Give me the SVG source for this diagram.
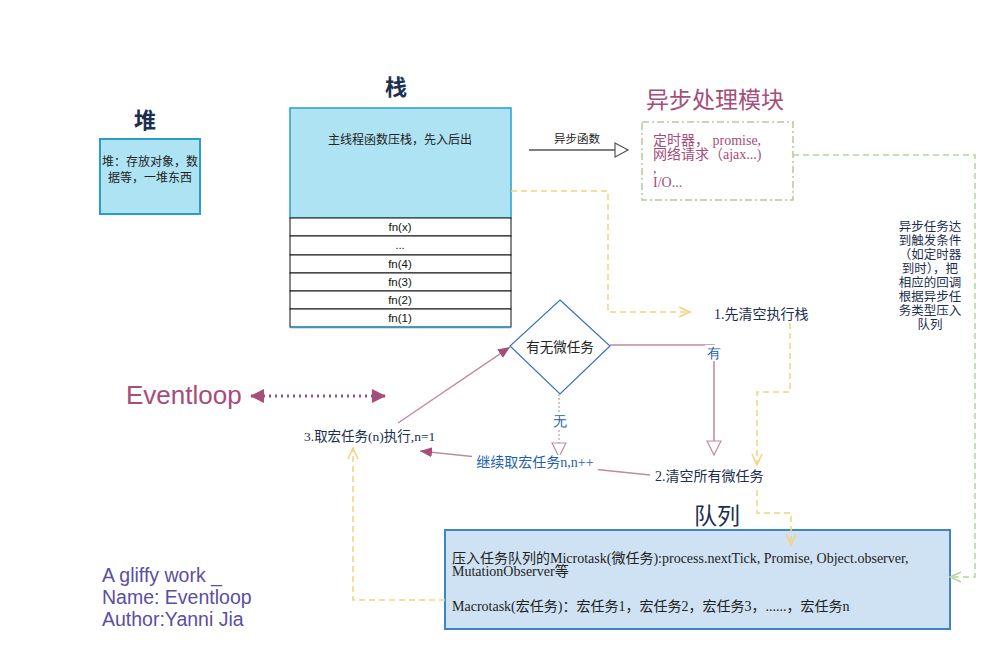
<svg xmlns="http://www.w3.org/2000/svg" width="1000" height="650" viewBox="0 0 1000 650">
<style>
.cjk{font-family:"Liberation Sans","Noto Sans CJK SC",sans-serif}
.ser{font-family:"Liberation Serif","Noto Sans CJK SC",serif}
.title{font-size:22px;font-weight:bold;fill:#1b2f4f}
.qtitle{font-size:23px;font-weight:normal;fill:#1b2f4f}
.ptitle{font-size:23px;fill:#a64d79}
.small{font-size:12px;fill:#222}
.row{fill:#fff;stroke:#111;stroke-width:1}
.ylw{fill:none;stroke:#f3d27a;stroke-width:1.5;stroke-dasharray:6 4}
.pink{fill:none;stroke:#c28a9f;stroke-width:1.5}
.blue{font-size:14px;fill:#1f5fb0}
</style>
<defs>
<marker id="openY" markerWidth="14" markerHeight="12" refX="12" refY="6" orient="auto" markerUnits="userSpaceOnUse"><path d="M1,1 L12,6 L1,11" fill="none" stroke="#f3d27a" stroke-width="1.5"/></marker>
<marker id="openG" markerWidth="14" markerHeight="12" refX="12" refY="6" orient="auto" markerUnits="userSpaceOnUse"><path d="M1,1 L12,6 L1,11" fill="none" stroke="#b7d49a" stroke-width="1.5"/></marker>
<marker id="triGray" markerWidth="16" markerHeight="16" refX="14" refY="8" orient="auto" markerUnits="userSpaceOnUse"><path d="M1,1 L14,8 L1,15 Z" fill="#fff" stroke="#555" stroke-width="1.2"/></marker>
<marker id="triPink" markerWidth="18" markerHeight="16" refX="15" refY="8" orient="auto" markerUnits="userSpaceOnUse"><path d="M1,1 L15,8 L1,15 Z" fill="#fff" stroke="#c28a9f" stroke-width="1.2"/></marker>
<marker id="fillPink" markerWidth="14" markerHeight="12" refX="12" refY="6" orient="auto" markerUnits="userSpaceOnUse"><path d="M0,1 L12,6 L0,11 Z" fill="#a64d79"/></marker>
<marker id="fillPinkBig" markerWidth="16" markerHeight="16" refX="13" refY="8" orient="auto-start-reverse" markerUnits="userSpaceOnUse"><path d="M0,1 L14,8 L0,15 Z" fill="#a64d79"/></marker>
</defs>

<g id="heap">
<text x="145" y="128" text-anchor="middle" class="cjk title">堆</text>
<rect x="100" y="139" width="100" height="75" fill="#aee3f3" stroke="#2a9fc6" stroke-width="2"/>
<text x="150" y="166" text-anchor="middle" class="cjk small">堆：存放对象，数</text>
<text x="150" y="182" text-anchor="middle" class="cjk small">据等，一堆东西</text>
</g>

<g id="stack">
<text x="396" y="95" text-anchor="middle" class="cjk title">栈</text>
<rect x="290" y="108" width="221" height="110" fill="#aee3f3" stroke="#2a9fc6" stroke-width="1.5"/>
<text x="400" y="144" text-anchor="middle" class="cjk small">主线程函数压栈，先入后出</text>
<rect x="290" y="218" width="221" height="18" class="row"/>
<rect x="290" y="236" width="221" height="19" class="row"/>
<rect x="290" y="255" width="221" height="18" class="row"/>
<rect x="290" y="273" width="221" height="18" class="row"/>
<rect x="290" y="291" width="221" height="18" class="row"/>
<rect x="290" y="309" width="221" height="18" class="row"/>
<line x1="290" y1="327.5" x2="511" y2="327.5" stroke="#2a9fc6" stroke-width="1.5"/>
<g class="cjk" font-size="11.5" fill="#111" text-anchor="middle">
<text x="400" y="231">fn(x)</text>
<text x="400" y="249">...</text>
<text x="400" y="268">fn(4)</text>
<text x="400" y="286">fn(3)</text>
<text x="400" y="304">fn(2)</text>
<text x="400" y="322">fn(1)</text>
</g>
</g>

<g id="async">
<text x="715" y="108" text-anchor="middle" class="cjk ptitle">异步处理模块</text>
<rect x="642" y="122" width="151" height="78" fill="none" stroke="#b5c7a5" stroke-width="1.5" stroke-dasharray="7 3 2 3"/>
<g class="ser" font-size="14" fill="#a64d79">
<text x="653" y="145">定时器， promise,</text>
<text x="653" y="159">网络请求（ajax...)</text>
<text x="653" y="173">,</text>
<text x="653" y="187">I/O...</text>
</g>
</g>

<g id="eventloop">
<text x="126" y="404" class="cjk" font-size="26" fill="#a64d79">Eventloop</text>
</g>

<g id="decision">
<polygon points="560,300 610,346 560,394 510,346" fill="#fff" stroke="#3b6fc4" stroke-width="1.2"/>
<text x="560" y="352" text-anchor="middle" class="cjk" font-size="13.5" fill="#222">有无微任务</text>
</g>

<g id="step1"><text x="714" y="319" class="ser" font-size="14" fill="#1b2f4f">1.先清空执行栈</text></g>
<g id="step2"><text x="655" y="481" class="ser" font-size="14" fill="#1b2f4f">2.清空所有微任务</text></g>
<g id="step3"><text x="304" y="441" class="ser" font-size="13.5" fill="#1b2f4f">3.取宏任务(n)执行,n=1</text></g>

<g id="queue">
<text x="717" y="524" text-anchor="middle" class="cjk qtitle">队列</text>
<rect x="445" y="530" width="505" height="99" fill="#cfe2f3" stroke="#3d85c6" stroke-width="2"/>
<g class="ser" font-size="14" fill="#222">
<text x="452" y="563">压入任务队列的Microtask(微任务):process.nextTick, Promise, Object.observer,</text>
<text x="452" y="576">MutationObserver等</text>
<text x="452" y="611">Macrotask(宏任务)：宏任务1，宏任务2，宏任务3，......，宏任务n</text>
</g>
</g>

<g id="credit" class="cjk" font-size="19.5" fill="#5b4ea3">
<text x="102" y="582">A gliffy work _</text>
<text x="102" y="604">Name: Eventloop</text>
<text x="102" y="626">Author:Yanni Jia</text>
</g>

<g id="connectors">
<line x1="529" y1="150" x2="628" y2="150" stroke="#555" stroke-width="1.5" marker-end="url(#triGray)"/>
<text x="577" y="143" text-anchor="middle" class="cjk" font-size="11.5" fill="#222">异步函数</text>

<polyline points="511,191 608,191 608,312 690,312" class="ylw" marker-end="url(#openY)"/>
<polyline points="790,323 790,392 757,392 757,465" class="ylw" marker-end="url(#openY)"/>
<polyline points="757,490 757,513 791,513 791,545" class="ylw" marker-end="url(#openY)"/>
<polyline points="445,600 353,600 353,448" class="ylw" marker-end="url(#openY)"/>

<polyline points="793,155 975,155 975,577 950,577" fill="none" stroke="#b7d49a" stroke-width="1.5" stroke-dasharray="6 4" marker-end="url(#openG)"/>
<g class="cjk" font-size="12.5" fill="#1b2f4f" text-anchor="middle">
<text x="930" y="231">异步任务达</text>
<text x="930" y="245">到触发条件</text>
<text x="930" y="259">（如定时器</text>
<text x="930" y="273">到时），把</text>
<text x="930" y="287">相应的回调</text>
<text x="930" y="301">根据异步任</text>
<text x="930" y="315">务类型压入</text>
<text x="930" y="329">队列</text>
</g>

<line x1="398" y1="423" x2="510" y2="347" class="pink" marker-end="url(#fillPink)"/>
<polyline points="610,345 714,345 714,455" class="pink" marker-end="url(#triPink)"/>
<rect x="705" y="345" width="18" height="16" fill="#fff"/>
<text x="714" y="358" text-anchor="middle" class="blue">有</text>
<line x1="559" y1="394" x2="559" y2="457" stroke="#bbb" stroke-width="1.5" stroke-dasharray="2 2" marker-end="url(#triPink)"/>
<rect x="550" y="413" width="18" height="16" fill="#fff"/>
<text x="560" y="426" text-anchor="middle" class="blue">无</text>
<polyline points="650,475 420,451" class="pink" stroke="#a8627e" marker-end="url(#fillPink)"/>
<rect x="472" y="455" width="126" height="16" fill="#fff"/>
<text x="535" y="467" text-anchor="middle" class="blue" font-family="Liberation Serif,Noto Sans CJK SC,serif">继续取宏任务n,n++</text>

<line x1="251" y1="396" x2="385" y2="396" stroke="#a64d79" stroke-width="3" stroke-dasharray="2 4" marker-start="url(#fillPinkBig)" marker-end="url(#fillPinkBig)"/>
</g>
</svg>
